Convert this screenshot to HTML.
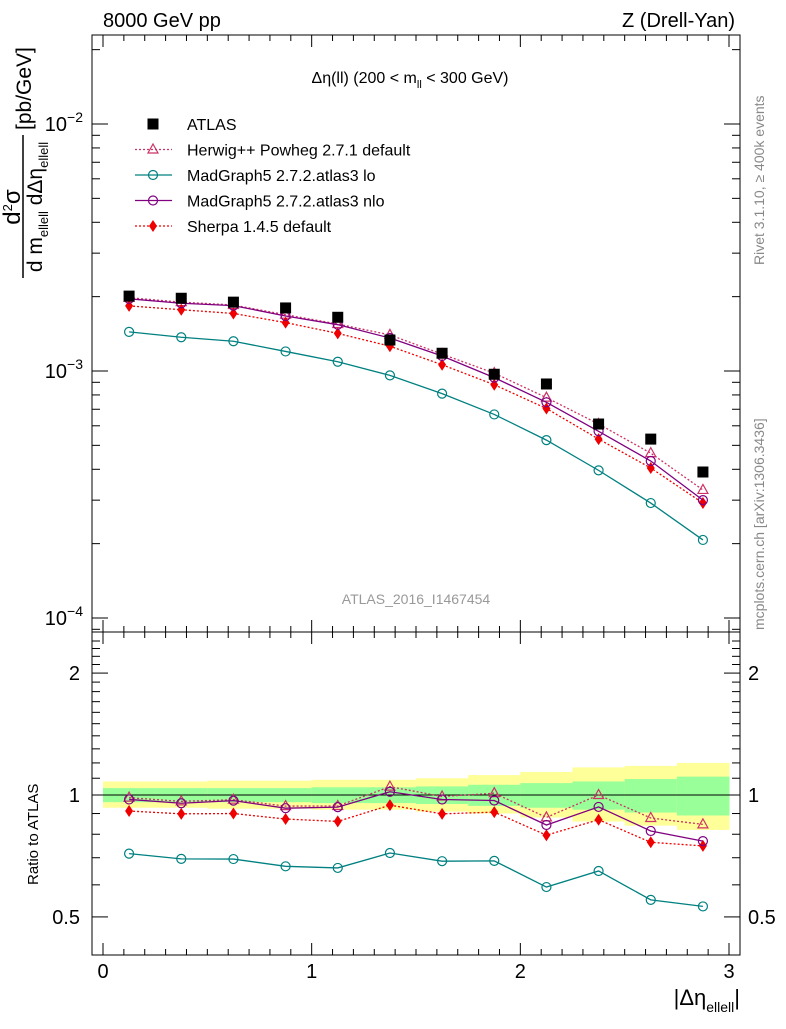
<!DOCTYPE html>
<html><head><meta charset="utf-8"><style>
body{margin:0;background:#fff}
svg{font-family:"Liberation Sans",sans-serif}
</style></head><body>
<svg id="c" width="786" height="1024"></svg>
<script>
const binCenters=[0.125,0.375,0.625,0.875,1.125,1.375,1.625,1.875,2.125,2.375,2.625,2.875];
const atlasVals=[2.01e-3,1.97e-3,1.90e-3,1.80e-3,1.65e-3,1.335e-3,1.18e-3,0.97e-3,0.886e-3,0.61e-3,0.53e-3,0.39e-3];
const herwigVals=[1.98e-3,1.90e-3,1.85e-3,1.69e-3,1.55e-3,1.40e-3,1.17e-3,0.98e-3,0.78e-3,0.61e-3,0.465e-3,0.33e-3];
const mgLoVals=[1.44e-3,1.37e-3,1.32e-3,1.20e-3,1.09e-3,0.96e-3,0.81e-3,0.667e-3,0.525e-3,0.396e-3,0.292e-3,0.207e-3];
const mgNloVals=[1.96e-3,1.88e-3,1.84e-3,1.67e-3,1.54e-3,1.36e-3,1.15e-3,0.94e-3,0.747e-3,0.57e-3,0.432e-3,0.30e-3];
const sherpaVals=[1.835e-3,1.77e-3,1.71e-3,1.57e-3,1.42e-3,1.26e-3,1.06e-3,0.88e-3,0.705e-3,0.53e-3,0.405e-3,0.292e-3];
const yellowUp=[1.08,1.08,1.085,1.085,1.09,1.09,1.10,1.12,1.14,1.17,1.18,1.20];
const yellowDn=[0.93,0.93,0.925,0.925,0.92,0.92,0.91,0.90,0.88,0.86,0.84,0.82];
const greenUp=[1.04,1.04,1.04,1.04,1.045,1.045,1.05,1.06,1.07,1.08,1.095,1.11];
const greenDn=[0.96,0.96,0.96,0.96,0.955,0.955,0.95,0.94,0.93,0.92,0.905,0.89];
const xTicks=[0,1,2,3];

const S=document.getElementById('c'),NS='http://www.w3.org/2000/svg';
function el(t,a,name,p){const e=document.createElementNS(NS,t);for(const k in a)e.setAttribute(k,a[k]);


(p||S).appendChild(e);return e;}
const X0=92,X1=740,MT=35,MB=632,RB=955;
const xs=v=>103+v*208.67;
const ym=v=>371-(Math.log10(v)+3)*247;
const yr=r=>795-Math.log10(r)*405;
const binW=0.125;

binCenters.forEach((c,i)=>{
 el('rect',{x:xs(c-binW),y:yr(yellowUp[i]),width:xs(c+binW)-xs(c-binW)+0.5,height:yr(yellowDn[i])-yr(yellowUp[i]),fill:'#ffff99'},'yellow-band');
 el('rect',{x:xs(c-binW),y:yr(greenUp[i]),width:xs(c+binW)-xs(c-binW)+0.5,height:yr(greenDn[i])-yr(greenUp[i]),fill:'#99ff99'},'green-band');
});
el('line',{x1:X0,x2:X1,y1:yr(1),y2:yr(1),stroke:'#000'},'ratio-unity-line');

el('rect',{x:X0,y:MT,width:X1-X0,height:MB-MT,fill:'none',stroke:'#000'},'main-frame');
el('rect',{x:X0,y:MB,width:X1-X0,height:RB-MB,fill:'none',stroke:'#000'},'ratio-frame');

for(let v=0;v<=3.0001;v+=0.1){const big=Math.abs(v-Math.round(v))<1e-6;const L=big?12:6;const x=xs(v);
 [[MT,1],[MB,-1],[MB,1],[RB,-1]].forEach(([y,d])=>el('line',{x1:x,x2:x,y1:y,y2:y+d*L,stroke:'#000'},'x-tick'));}
xTicks.forEach(v=>{const t=el('text',{x:xs(v),y:978,'text-anchor':'middle','font-size':20},'x-tick-label');t.textContent=v;});
for(let d=-5;d<=-2;d++)for(let m=1;m<10;m++){const v=m*Math.pow(10,d);const y=ym(v);if(y<MT||y>MB)continue;const L=m==1?16:8;
 el('line',{x1:X0,x2:X0+L,y1:y,y2:y,stroke:'#000'},'y-tick');el('line',{x1:X1,x2:X1-L,y1:y,y2:y,stroke:'#000'},'y-tick');}
[-2,-3,-4].forEach(e=>{const t=el('text',{x:83,y:ym(Math.pow(10,e))+7,'text-anchor':'end','font-size':20},'y-tick-label');
 t.innerHTML='10<tspan dy="-9" font-size="14">&#8722;'+(-e)+'</tspan>';});
for(let r=0.4;r<=2.5;r+=0.1){const y=yr(r);if(y<MB||y>RB)continue;const big=[0.5,1,2].some(q=>Math.abs(q-r)<1e-6);const L=big?16:8;
 el('line',{x1:X0,x2:X0+L,y1:y,y2:y,stroke:'#000'},'ratio-tick');el('line',{x1:X1,x2:X1-L,y1:y,y2:y,stroke:'#000'},'ratio-tick');}
[[2,'2'],[1,'1'],[0.5,'0.5']].forEach(([r,s])=>{
 let t=el('text',{x:80,y:yr(r)+7,'text-anchor':'end','font-size':20},'ratio-tick-label');t.textContent=s;
 t=el('text',{x:748,y:yr(r)+7,'font-size':20},'ratio-tick-label-right');t.textContent=s;});

function series(vals,color,dash,marker,name){
 const pm=binCenters.map((c,i)=>xs(c)+','+ym(vals[i])).join(' ');
 const pr=binCenters.map((c,i)=>xs(c)+','+yr(vals[i]/atlasVals[i])).join(' ');
 el('polyline',{points:pm,fill:'none',stroke:color,'stroke-width':1.3,'stroke-dasharray':dash},name+'-line');
 el('polyline',{points:pr,fill:'none',stroke:color,'stroke-width':1.3,'stroke-dasharray':dash},name+'-ratio-line');
 binCenters.forEach((c,i)=>{mk(marker,xs(c),ym(vals[i]),color,name+'-point');mk(marker,xs(c),yr(vals[i]/atlasVals[i]),color,name+'-ratio-point');});
}
function mk(m,x,y,c,name){
 if(m=='circle')el('circle',{cx:x,cy:y,r:4.5,fill:'none',stroke:c,'stroke-width':1.2},name);
 else if(m=='tri')el('polygon',{points:`${x},${y-5.5} ${x+5},${y+3.5} ${x-5},${y+3.5}`,fill:'none',stroke:c,'stroke-width':1.2},name);
 else if(m=='diamond')el('polygon',{points:`${x},${y-6} ${x+4},${y} ${x},${y+6} ${x-4},${y}`,fill:c},name);
 else el('rect',{x:x-5.5,y:y-5.5,width:11,height:11,fill:c},name);
}
series(mgLoVals,'#008080','','circle','madgraph-lo');
series(herwigVals,'#cc3366','2,2','tri','herwig');
series(sherpaVals,'#ee0000','2,2','diamond','sherpa');
series(mgNloVals,'#800080','','circle','madgraph-nlo');
binCenters.forEach((c,i)=>mk('sq',xs(c),ym(atlasVals[i]),'#000','atlas-point'));

const leg=[['sq','#000','','ATLAS'],['tri','#cc3366','2,2','Herwig++ Powheg 2.7.1 default'],['circle','#008080','','MadGraph5 2.7.2.atlas3 lo'],['circle','#800080','','MadGraph5 2.7.2.atlas3 nlo'],['diamond','#ee0000','2,2','Sherpa 1.4.5 default']];
leg.forEach(([m,c,d,t],i)=>{const y=124+i*25.5;
 if(m!='sq')el('line',{x1:135,x2:172,y1:y,y2:y,stroke:c,'stroke-dasharray':d,'stroke-width':1.3},'legend-line');
 mk(m,153,y,c,'legend-marker');
 const tx=el('text',{x:187,y:y+6,'font-size':16},'legend-entry');tx.textContent=t;});

function txt(x,y,s,a,name){const t=el('text',Object.assign({x:x,y:y},a),name);t.innerHTML=s;return t;}
txt(103,27,'8000 GeV pp',{'font-size':20},'energy-label');
txt(735,27,'Z (Drell-Yan)',{'font-size':20,'text-anchor':'end'},'process-label');
txt(410,83,'&#916;&#951;(ll) (200 &lt; m<tspan dy="5" font-size="11">ll</tspan><tspan dy="-5"> &lt; 300 GeV)</tspan>',{'font-size':16,'text-anchor':'middle'},'plot-title');
txt(416,604,'ATLAS_2016_I1467454',{'font-size':14,fill:'#999','text-anchor':'middle'},'analysis-id');
txt(0,0,'Rivet 3.1.10, &#8805; 400k events',{'font-size':14,fill:'#888',transform:'translate(764,265) rotate(-90)'},'rivet-label');
txt(0,0,'mcplots.cern.ch [arXiv:1306.3436]',{'font-size':14,fill:'#888',transform:'translate(764,630) rotate(-90)'},'mcplots-label');
txt(0,0,'Ratio to ATLAS',{'font-size':15,transform:'translate(38,885) rotate(-90)'},'ratio-y-title');
txt(0,0,'d<tspan dy="-8" font-size="13">2</tspan><tspan dy="8">&#963;</tspan>',{'font-size':24,'text-anchor':'middle',transform:'translate(20,207) rotate(-90)'},'y-title-num');
el('line',{x1:23,x2:23,y1:135,y2:278,stroke:'#000','stroke-width':1.5},'y-title-bar');
txt(0,0,'d m<tspan dy="6" font-size="13">ellell</tspan><tspan dy="-6"> d&#916;&#951;</tspan><tspan dy="6" font-size="13">ellell</tspan>',{'font-size':21,'text-anchor':'middle',transform:'translate(42,207) rotate(-90)'},'y-title-den');
txt(0,0,'[pb/GeV]',{'font-size':21,transform:'translate(31,130) rotate(-90)'},'y-unit');
txt(740,1005,'|&#916;&#951;<tspan dy="7" font-size="14">ellell</tspan><tspan dy="-7">|</tspan>',{'font-size':22,'text-anchor':'end'},'x-title');
</script>
</body></html>
